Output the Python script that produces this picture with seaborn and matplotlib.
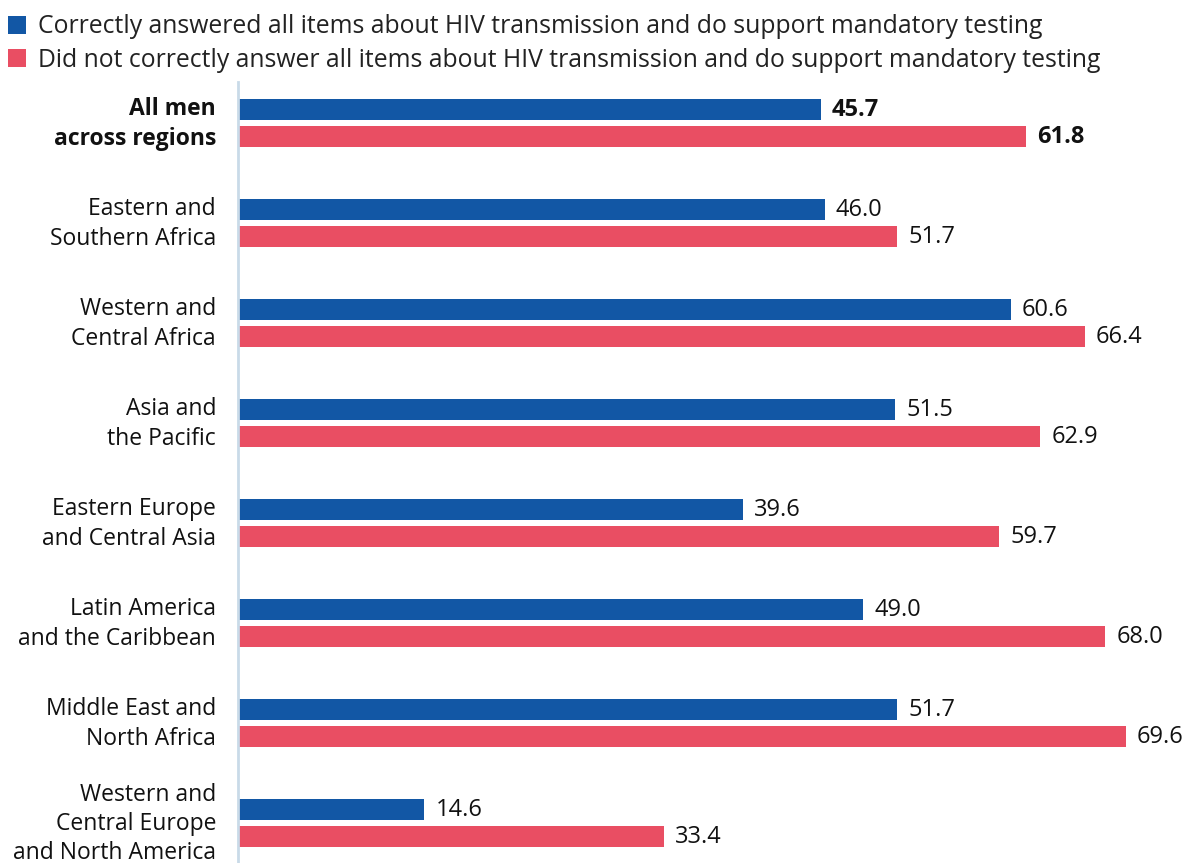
import pandas as pd
import numpy as np
import matplotlib.pyplot as plt
import seaborn as sns
from matplotlib.patches import Patch

# data
regions = ["All men\nacross regions", "Eastern and\nSouthern Africa",
           "Western and\nCentral Africa", "Asia and\nthe Pacific",
           "Eastern Europe\nand Central Asia", "Latin America\nand the Caribbean",
           "Middle East and\nNorth Africa",
           "Western and\nCentral Europe\nand North America"]
correct = [45.7, 46.0, 60.6, 51.5, 39.6, 49.0, 51.7, 14.6]
not_correct = [61.8, 51.7, 66.4, 62.9, 59.7, 68.0, 69.6, 33.4]
series = ["Correctly answered all items about HIV transmission and do support mandatory testing",
          "Did not correctly answer all items about HIV transmission and do support mandatory testing"]
colors = ["#1257A5", "#E94E63"]

sns.set_theme(style="white")
plt.rcParams['font.family'] = ['Open Sans', 'Noto Sans', 'DejaVu Sans']

df = pd.DataFrame({
    "region": regions * 2,
    "value": correct + not_correct,
    "group": [series[0]] * len(regions) + [series[1]] * len(regions),
})

fig = plt.figure(figsize=(11.87, 8.63), dpi=100)
ax = fig.add_axes([238 / 1187, 0, 1 - 238 / 1187, 1 - 82 / 863])

sns.barplot(data=df, y="region", x="value", hue="group", orient="h",
            palette=colors, width=0.54, gap=0.22, legend=False, ax=ax,
            saturation=1, edgecolor="none")

for cont in ax.containers:
    texts = ax.bar_label(cont, fmt="%.1f", padding=8, fontsize=17, color="#111111")
    texts[0].set_fontweight("bold")

ax.set_xlim(0, 74.4)
ax.set_ylim(7.4, -0.41)
ax.set_xlabel("")
ax.set_ylabel("")
ax.set_xticks([])
ax.set_yticks(range(len(regions)), [""] * len(regions))
ax.tick_params(axis="y", length=0)

# category labels, first one bold
for i, name in enumerate(regions):
    ax.annotate(name, xy=(0, i), xycoords=ax.get_yaxis_transform(),
                xytext=(-22, -1), textcoords="offset pixels",
                ha="right", va="center", fontsize=16.5, color="#111111",
                linespacing=1.28, fontweight="bold" if i == 0 else "normal",
                annotation_clip=False)

for s in ["top", "right", "bottom"]:
    ax.spines[s].set_visible(False)
ax.spines["left"].set_color("#C9DAE8")
ax.spines["left"].set_linewidth(2)

handles = [Patch(facecolor=c, edgecolor="none") for c in colors]
fig.legend(handles, series, loc="upper left", bbox_to_anchor=(-0.007, 1.002),
           frameon=False, fontsize=17.85, handlelength=0.75, handleheight=0.75,
           handletextpad=0.45, labelspacing=0.35, borderaxespad=0.25,
           labelcolor="#222222")

plt.savefig("out.png", dpi=100)
plt.close()
